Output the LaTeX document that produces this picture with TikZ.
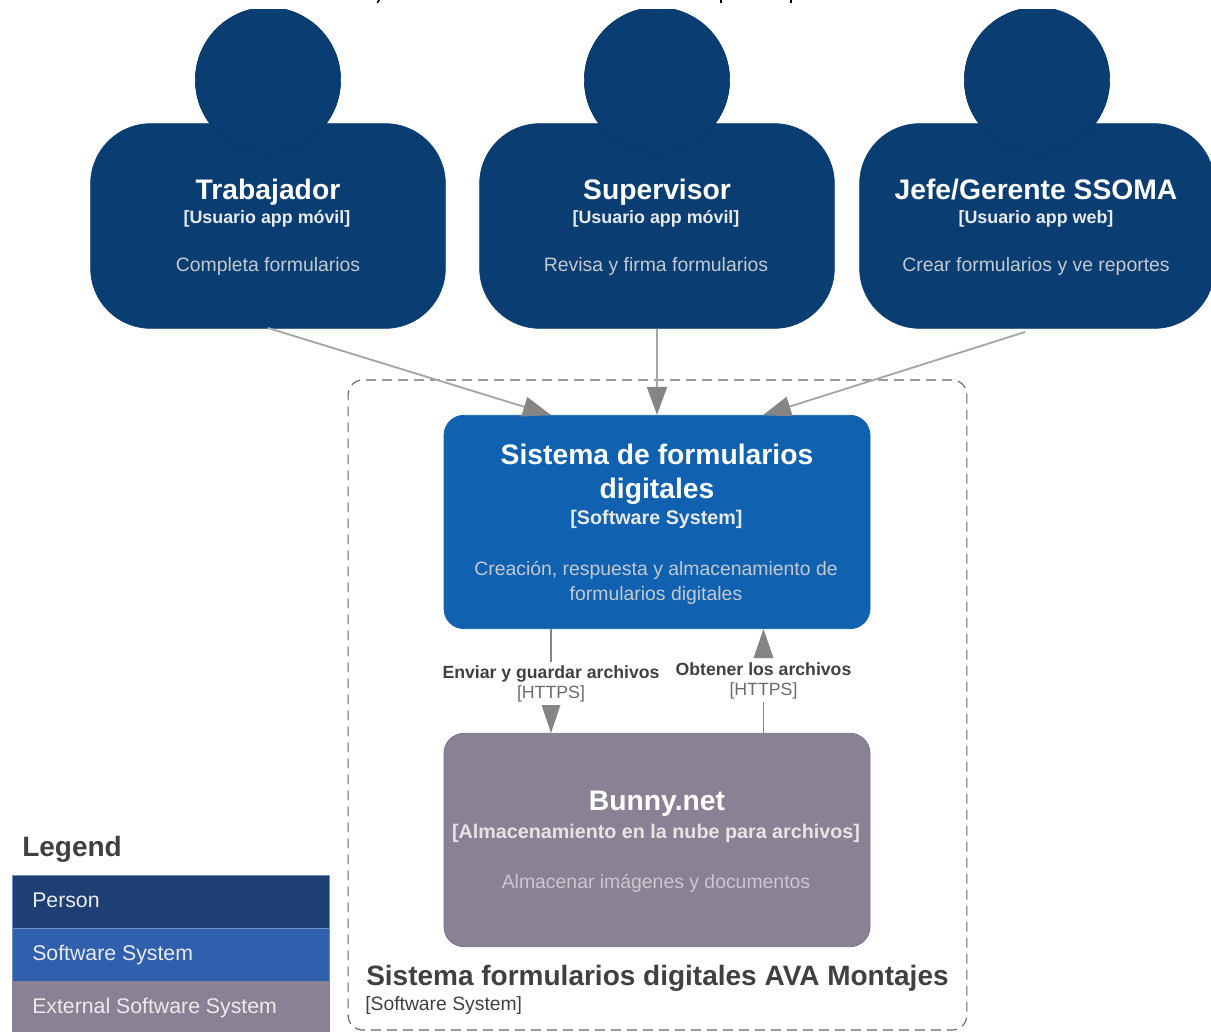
\documentclass[tikz,border=0pt]{standalone}
\usepackage{fontspec}
\setmainfont{Liberation Sans}
\usetikzlibrary{arrows.meta}
\definecolor{personc}{HTML}{0A3E72}
\definecolor{personb}{HTML}{073564}
\definecolor{sysc}{HTML}{1061B0}
\definecolor{extc}{HTML}{8B8194}
\definecolor{extb}{HTML}{7A7086}
\definecolor{legp}{HTML}{1E3F73}
\definecolor{legs}{HTML}{2F5FAD}
\definecolor{legb}{HTML}{6F8FC4}
\definecolor{descc}{HTML}{C4C9D0}
\definecolor{linec}{HTML}{A6A6A6}
\definecolor{tipc}{HTML}{858585}
\definecolor{textc}{HTML}{404040}
\definecolor{bndc}{HTML}{666666}
\tikzset{
  x=0.75pt,y=-0.75pt,
  body/.style={fill=personc,draw=personc,line width=0.5pt,rounded corners=45pt,minimum width=266pt,minimum height=153.5pt,inner sep=0pt},
  head/.style={circle,fill=personc,draw=personb,line width=0.5pt,minimum size=109pt,inner sep=0pt},
  box/.style={rounded corners=15pt,minimum width=319.5pt,minimum height=160pt,inner sep=0pt,line width=0.6pt},
  ttl/.style={font=\bfseries\fontsize{21.2}{24}\selectfont,text=white,inner sep=0pt,anchor=base},
  typ/.style={font=\fontsize{13.4}{15}\selectfont\bfseries,text=descc!40!white,inner sep=0pt,anchor=base},
  dsc/.style={font=\fontsize{14.55}{17}\selectfont,text=descc,inner sep=0pt,anchor=base},
  typb/.style={font=\fontsize{14.8}{18}\selectfont\bfseries,inner sep=0pt,anchor=base},
  rel/.style={draw=linec,line width=1.4pt,-{Triangle[length=21pt,width=15pt,fill=tipc,color=tipc]}},
  rel2/.style={draw=tipc,line width=0.9pt},
  rellab/.style={font=\bfseries\fontsize{13.25}{16}\selectfont,text=textc,inner sep=0pt,anchor=base},
  relsub/.style={font=\fontsize{13.3}{16}\selectfont,text=tipc!80!black,inner sep=0pt,anchor=base},
  leg/.style={minimum width=238pt,minimum height=39.8pt,inner sep=0pt,draw=legb,line width=0.4pt,anchor=north west},
  legt/.style={font=\fontsize{15.95}{18}\selectfont,text=white!92!black,inner sep=0pt,anchor=base west},
}
\begin{document}
\begin{tikzpicture}
\useasboundingbox (0,0) rectangle (1211,1032);
% bodies and heads
\node[body] (b1) at (268,226) {};
\node[body] (b2) at (657,226) {};
\node[body] (b3) at (1037,226) {};
\begin{scope}
\clip (0,9) rectangle (1211,160);
\node[head] (h1) at (268,80) {};
\node[head] (h2) at (657,80) {};
\node[head] (h3) at (1037,80) {};
\end{scope}
% clipped caption remnants at the top edge
\fill[black] (378,0) -- (380,0) -- (378,3) -- (376.5,3) -- cycle;
\fill[black] (719.5,0) rectangle (721.5,3);
\fill[black] (789.5,0) rectangle (791.5,3);
% person labels
\node[ttl] (t1) at (268,199) {Trabajador};
\node[typ] (u1) at (267,223.5) {[Usuario app móvil]};
\node[dsc] (d1) at (268,271.5) {Completa formularios};
\node[ttl] (t2) at (657,199) {Supervisor};
\node[typ] (u2) at (656,223.5) {[Usuario app móvil]};
\node[dsc] (d2) at (656,271.5) {Revisa y firma formularios};
\node[ttl] (t3) at (1036,199) {Jefe/Gerente SSOMA};
\node[typ] (u3) at (1036,223.5) {[Usuario app web]};
\node[dsc] (d3) at (1036,271.5) {Crear formularios y ve reportes};
% boundary
\node[draw=bndc,dash pattern=on 7.5pt off 4.5pt,line width=0.85pt,rounded corners=11pt,minimum width=464pt,minimum height=487.5pt,inner sep=0pt] (bnd) at (657.5,705) {};
\node[font=\bfseries\fontsize{21}{24}\selectfont,text=textc,inner sep=0pt,anchor=base west] (bt) at (366,985) {Sistema formularios digitales AVA Montajes};
\node[font=\fontsize{14.5}{17}\selectfont,text=textc,inner sep=0pt,anchor=base west] (bs) at (365,1010) {[Software System]};
% system
\node[box,fill=sysc,draw=sysc] (sys) at (657,522) {};
\node[ttl] (st1) at (657,464) {Sistema de formularios};
\node[ttl] (st2) at (657,498) {digitales};
\node[typb,text=descc!40!white] (su) at (656.5,524) {[Software System]};
\node[dsc] (sd1) at (656,575.5) {Creación, respuesta y almacenamiento de};
\node[dsc] (sd2) at (656,600) {formularios digitales};
% external
\node[box,fill=extc,draw=extb] (ext) at (657,840) {};
\node[ttl] (et) at (657,810) {Bunny.net};
\node[typb,text=white!90!black] (eu) at (656,838) {[Almacenamiento en la nube para archivos]};
\node[dsc,text=extc!45!white] (ed) at (656,888) {Almacenar imágenes y documentos};
% connectors
\coordinate (s1) at (268,328);
\coordinate (e1) at (551,415);
\coordinate (s3) at (1025,332);
\coordinate (e3) at (763,415);
\draw[rel] (s1) -- (e1);
\draw[rel] (b2.south) -- (sys.north);
\draw[rel] (s3) -- (e3);
\coordinate (a1) at (551,629);
\coordinate (a2) at (551,662);
\coordinate (a3) at (551,705);
\coordinate (a4) at (551,733);
\coordinate (c1) at (763.5,733);
\coordinate (c2) at (763.5,702);
\coordinate (c3) at (763.5,658);
\coordinate (c4) at (763.5,629);
\draw[rel2] (a1) -- (a2);
\draw[rel2] (c1) -- (c2);
\fill[tipc] (a3) ++(-9.5,0) -- ++(19,0) -- (a4) -- cycle;
\fill[tipc] (c3) ++(-10,0) -- ++(20,0) -- (c4) -- cycle;
\node[rellab] (l1) at (551,678.5) {Enviar y guardar archivos};
\node[relsub] (l2) at (551,698.5) {[HTTPS]};
\node[rellab] (l3) at (763.5,675) {Obtener los archivos};
\node[relsub] (l4) at (763.5,695.5) {[HTTPS]};
% legend
\node[font=\bfseries\fontsize{21}{24}\selectfont,text=textc,inner sep=0pt,anchor=base west] (lg) at (22,856) {Legend};
\node[leg,fill=legp] (p) at (12,875) {};
\node[leg,fill=legs] (q) at (12,928) {};
\node[leg,fill=extc,draw=extc] (r) at (12,981) {};
\node[legt] (pt) at (32,907) {Person};
\node[legt] (qt) at (32,960) {Software System};
\node[legt] (rt) at (32,1013) {External Software System};
\end{tikzpicture}
\end{document}
